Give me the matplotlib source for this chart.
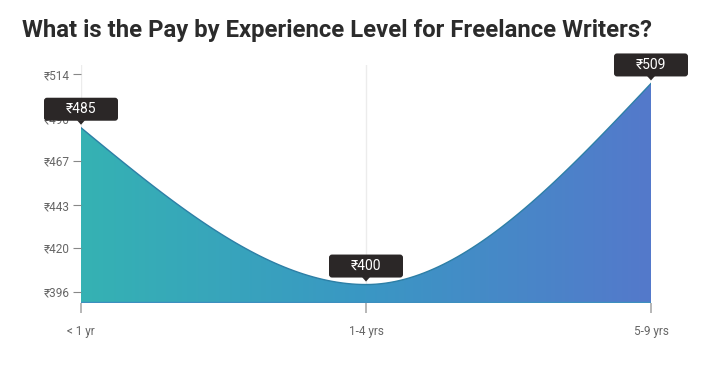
import numpy as np
import matplotlib
matplotlib.use("Agg")
import matplotlib.pyplot as plt
from matplotlib.patches import FancyBboxPatch, Polygon
from matplotlib.colors import LinearSegmentedColormap

# ---------------- DATA ----------------
categories = ["< 1 yr", "1-4 yrs", "5-9 yrs"]
pay = [485, 400, 509]
y_ticks = [396, 420, 443, 467, 490, 514]
# --------------------------------------

plt.rcParams["font.family"] = ["Roboto", "DejaVu Sans"]

W, H = 717, 374
fig = plt.figure(figsize=(W / 100, H / 100), dpi=100)
ax = fig.add_axes([81 / W, 1 - 303 / H, (651 - 81) / W, (303 - 65) / H])

xs = np.arange(len(pay), dtype=float)
ys = np.array(pay, dtype=float)


def monotone_curve(x, y, n=60):
    # d3 curveMonotoneX style cubic hermite
    h = np.diff(x)
    s = np.diff(y) / h
    m = np.zeros(len(x))
    for i in range(1, len(x) - 1):
        if np.sign(s[i - 1]) + np.sign(s[i]) == 0:
            m[i] = 0
        else:
            p = (s[i - 1] * h[i] + s[i] * h[i - 1]) / (h[i - 1] + h[i])
            m[i] = (np.sign(s[i - 1]) + np.sign(s[i])) * min(abs(s[i - 1]), abs(s[i]), 0.5 * abs(p))
    m[0] = (3 * s[0] - m[1]) / 2
    m[-1] = (3 * s[-1] - m[-2]) / 2
    px, py = [], []
    for i in range(len(x) - 1):
        t = np.linspace(0, 1, n)
        h00 = 2 * t**3 - 3 * t**2 + 1
        h10 = t**3 - 2 * t**2 + t
        h01 = -2 * t**3 + 3 * t**2
        h11 = t**3 - t**2
        px.append(x[i] + t * h[i])
        py.append(h00 * y[i] + h10 * h[i] * m[i] + h01 * y[i + 1] + h11 * h[i] * m[i + 1])
    return np.concatenate(px), np.concatenate(py)


cx, cy = monotone_curve(xs, ys)

y0, y1 = 390.0, 519.0
ax.set_xlim(0, 2)
ax.set_ylim(y0, y1)

# vertical grid lines
for x in xs:
    ax.axvline(x, color="#ececec", lw=1, zorder=0)

# gradient fill clipped to the area under the curve
cmap = LinearSegmentedColormap.from_list("g", ["#35b2b3", "#3a97c4", "#5479cb"])
grad = np.linspace(0, 1, 256).reshape(1, -1)
im = ax.imshow(grad, cmap=cmap, extent=[0, 2, y0, y1], aspect="auto", zorder=1)
poly = Polygon(np.column_stack([np.r_[cx, 2, 0], np.r_[cy, y0, y0]]), closed=True,
               facecolor="none", edgecolor="none", transform=ax.transData)
ax.add_patch(poly)
im.set_clip_path(poly)
ax.plot(cx, cy, color="#2d7fa6", lw=1, zorder=2)
ax.plot([0, 2], [y0 + 0.3, y0 + 0.3], color="#3d8fbf", lw=1, zorder=2)

# axes styling
for sp in ax.spines.values():
    sp.set_visible(False)
ax.set_yticks(y_ticks)
ax.set_yticklabels([f"₹{v}" for v in y_ticks])
ax.set_xticks(xs)
ax.set_xticklabels(categories)
ax.tick_params(axis="y", length=6, width=0.8, color="#888888", labelcolor="#666666",
               labelsize=8.5, pad=2)
ax.tick_params(axis="x", length=7, width=1.2, color="#aaaaaa", labelcolor="#666666",
               labelsize=8.5, pad=9)

# tooltip labels
for x, v in zip(xs, ys):
    xp, yp = ax.transData.transform((x, v))
    bw, bh = 74, 23
    bx, by = xp - bw / 2, yp + 7
    box = FancyBboxPatch((bx, by), bw, bh, boxstyle="round,pad=0,rounding_size=3",
                         facecolor="#2b2727", edgecolor="none", transform=None, zorder=5)
    fig.patches.append(box)
    tri = Polygon([[xp - 4, by + 0.5], [xp + 4, by + 0.5], [xp, by - 4]], closed=True,
                  facecolor="#2b2727", edgecolor="none", transform=None, zorder=5)
    fig.patches.append(tri)
    fig.text((xp) / W, (by + bh / 2) / H, f"₹{int(v)}", color="white", fontsize=10,
             ha="center", va="center", zorder=6)

fig.text(22 / W, 1 - 30 / H, "What is the Pay by Experience Level for Freelance Writers?",
         fontsize=17.2, fontweight="bold", color="#2b2b2b", ha="left", va="center")

fig.savefig("out.png", dpi=100)
